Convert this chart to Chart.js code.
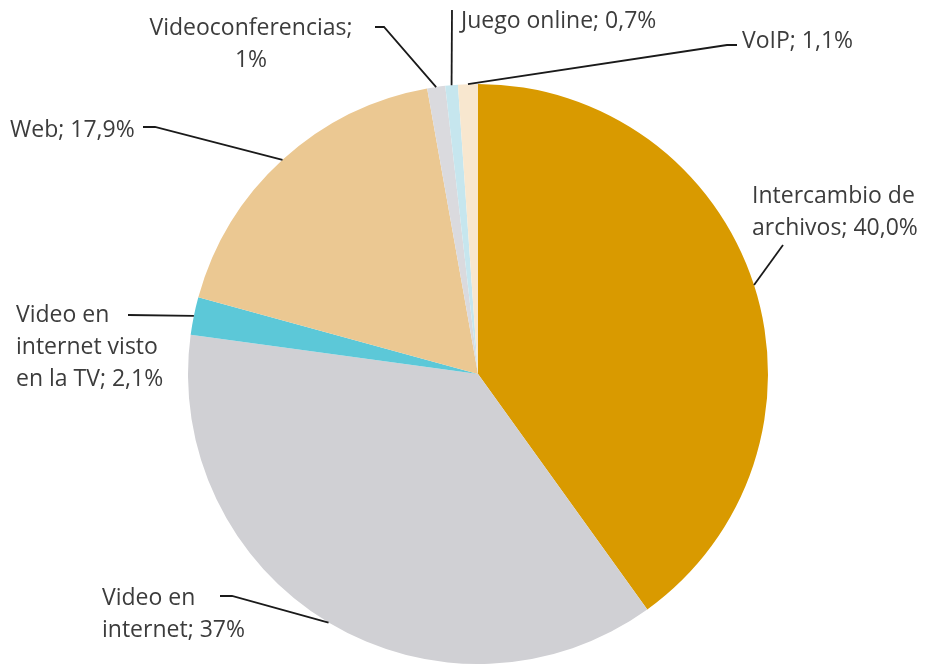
<!DOCTYPE html>
<html lang="es">
<head>
<meta charset="utf-8">
<title>Tráfico de internet por uso</title>
<script src="https://cdn.jsdelivr.net/npm/chart.js@4/dist/chart.umd.min.js"></script>
<style>
  html, body { margin: 0; padding: 0; background: #fff; }
  #wrap { width: 938px; height: 664px; position: relative; }
</style>
</head>
<body>
<div id="wrap"><canvas id="pieChart" width="938" height="664"></canvas></div>
<script>
/* ---------- Data ---------- */
const sliceNames = [
  'Intercambio de archivos',
  'Video en internet',
  'Video en internet visto en la TV',
  'Web',
  'Videoconferencias',
  'Juego online',
  'VoIP'
];
const shares = [40.0, 37, 2.1, 17.9, 1, 0.7, 1.1];
const shareText = ['40,0%', '37%', '2,1%', '17,9%', '1%', '0,7%', '1,1%'];
const sliceColors = ['#d99a00', '#d0d0d4', '#5cc8d8', '#ebc892', '#dadade', '#c6e6ee', '#f8e7cf'];

/* ---------- Callout labels (text lines, anchor, leader elbow) ---------- */
const callouts = [
  { lines: ['Intercambio de', 'archivos; 40,0%'], x: 752, y: 203, align: 'left', leader: [[783, 245]] },
  { lines: ['Video en', 'internet; 37%'], x: 102, y: 605, align: 'left', leader: [[220, 596], [232, 596]] },
  { lines: ['Video en', 'internet visto', 'en la TV; 2,1%'], x: 16, y: 322, align: 'left', leader: [[128, 315]] },
  { lines: ['Web; 17,9%'], x: 10, y: 137, align: 'left', leader: [[143, 127], [155, 127]] },
  { lines: ['Videoconferencias;', '1%'], x: 251, y: 35, align: 'center', leader: [[375, 27], [384, 27]] },
  { lines: ['Juego online; 0,7%'], x: 461, y: 28, align: 'left', leader: [[452, 10]] },
  { lines: ['VoIP; 1,1%'], x: 742, y: 48, align: 'left', leader: [[737, 45], [727, 45]] }
];

const calloutPlugin = {
  id: 'callouts',
  afterDatasetsDraw(chart) {
    const ctx = chart.ctx;
    const arcs = chart.getDatasetMeta(0).data;
    ctx.save();
    ctx.font = '23px "Open Sans", "Noto Sans", sans-serif';
    ctx.fillStyle = '#3c3c3c';
    ctx.textBaseline = 'alphabetic';
    callouts.forEach((c, i) => {
      const arc = arcs[i];
      const mid = (arc.startAngle + arc.endAngle) / 2;
      const px = arc.x + arc.outerRadius * Math.cos(mid);
      const py = arc.y + arc.outerRadius * Math.sin(mid);

      ctx.beginPath();
      ctx.strokeStyle = '#1a1a1a';
      ctx.lineWidth = 1.8;
      c.leader.forEach((p, k) => (k === 0 ? ctx.moveTo(p[0], p[1]) : ctx.lineTo(p[0], p[1])));
      ctx.lineTo(px, py);
      ctx.stroke();

      ctx.textAlign = c.align;
      c.lines.forEach((t, k) => ctx.fillText(t, c.x, c.y + k * 32));
    });
    ctx.restore();
  }
};

new Chart(document.getElementById('pieChart'), {
  type: 'pie',
  data: {
    labels: sliceNames,
    datasets: [{
      data: shares,
      backgroundColor: sliceColors,
      borderWidth: 0
    }]
  },
  options: {
    responsive: false,
    animation: false,
    layout: { padding: { top: 84, bottom: 0, left: 188, right: 170 } },
    plugins: {
      legend: { display: false },
      tooltip: { enabled: false }
    }
  },
  plugins: [calloutPlugin]
});
</script>
</body>
</html>
